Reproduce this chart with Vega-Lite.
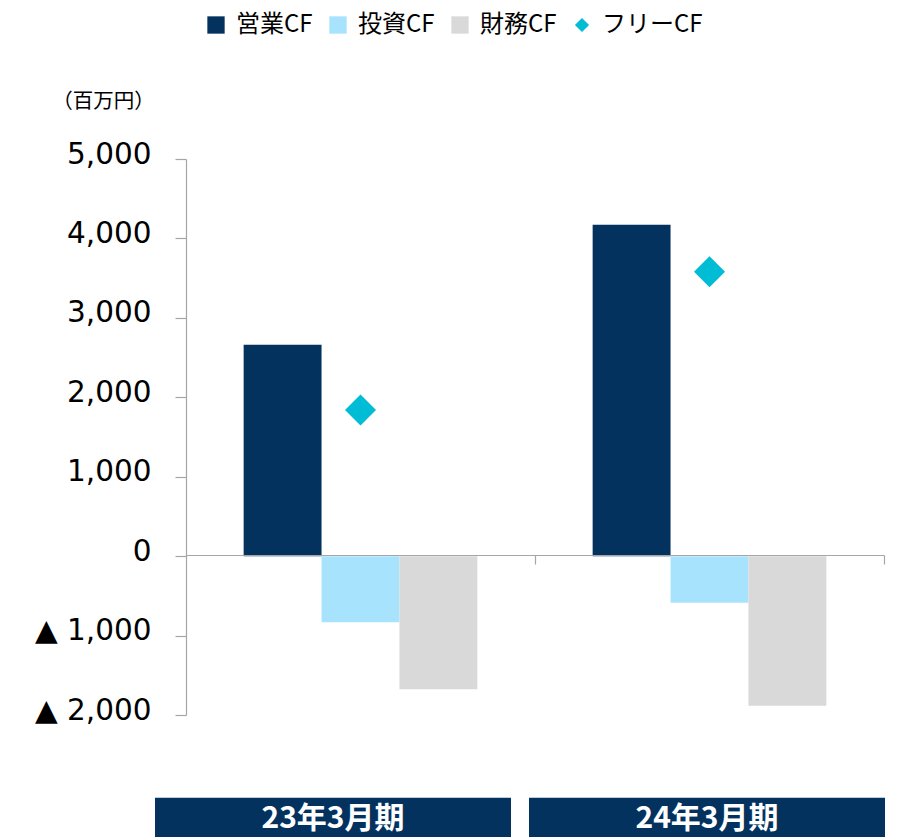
{
  "$schema": "https://vega.github.io/schema/vega-lite/v6.json",
  "autosize": {"type": "none"},
  "padding": {"left": 186, "top": 159, "right": 13, "bottom": 122},
  "width": 698,
  "height": 556,
  "background": "white",
  "config": {"view": {"stroke": null}},
  "datasets": {
    "cf": [
      {"period": "23年3月期", "type": "営業CF", "value": 2660},
      {"period": "23年3月期", "type": "投資CF", "value": -831},
      {"period": "23年3月期", "type": "財務CF", "value": -1675},
      {"period": "23年3月期", "type": "フリーCF", "value": 1840},
      {"period": "24年3月期", "type": "営業CF", "value": 4171},
      {"period": "24年3月期", "type": "投資CF", "value": -588},
      {"period": "24年3月期", "type": "財務CF", "value": -1885},
      {"period": "24年3月期", "type": "フリーCF", "value": 3580}
    ],
    "periods": [
      {"period": "23年3月期"},
      {"period": "24年3月期"}
    ]
  },
  "resolve": {"scale": {"x": "independent"}, "axis": {"x": "independent"}},
  "layer": [
    {
      "layer": [
        {
          "data": {"name": "cf"},
          "transform": [{"filter": "datum.type !== 'フリーCF'"}],
          "mark": {"type": "bar"},
          "encoding": {
            "x": {
              "field": "period", "type": "nominal",
              "scale": {"domain": ["23年3月期", "24年3月期"], "paddingInner": 0, "paddingOuter": 0},
              "axis": {
                "orient": "bottom", "offset": -160, "labels": false, "title": null,
                "domainColor": "#a6a6a6", "tickColor": "#a6a6a6", "tickSize": 9,
                "bandPosition": 1, "grid": false, "zindex": 1, "domainWidth": 1.2, "tickWidth": 1.2
              }
            },
            "xOffset": {
              "field": "type", "type": "nominal",
              "scale": {"domain": ["営業CF", "投資CF", "財務CF"], "paddingInner": 0, "paddingOuter": 0.74}
            },
            "y": {
              "field": "value", "type": "quantitative",
              "scale": {"domain": [-2000, 5000], "nice": false, "zero": false},
              "axis": {
                "values": [-2000, -1000, 0, 1000, 2000, 3000, 4000, 5000],
                "labelExpr": "datum.value < 0 ? '▲ ' + format(-datum.value, ',') : format(datum.value, ',')",
                "labelFont": "DejaVu Sans", "labelFontSize": 29.5, "labelColor": "#000000",
                "labelPadding": 24, "labelOffset": -5,
                "tickSize": 11, "tickColor": "#a6a6a6", "domainColor": "#a6a6a6",
                "domainWidth": 1.2, "tickWidth": 1.2, "grid": false,
                "title": "（百万円）", "titleAngle": 0, "titleX": -83, "titleY": -58,
                "titleAlign": "center", "titleBaseline": "middle",
                "titleFont": "Noto Sans CJK JP", "titleFontSize": 20.5, "titleFontWeight": "normal",
                "titleColor": "#000000"
              }
            },
            "color": {
              "field": "type", "type": "nominal",
              "scale": {
                "domain": ["営業CF", "投資CF", "財務CF", "フリーCF"],
                "range": ["#04325f", "#a8e3fe", "#d9d9d9", "#00bcd4"]
              },
              "legend": {
                "orient": "none", "legendX": 18, "legendY": -146,
                "direction": "horizontal", "title": null,
                "labelFont": "Noto Sans CJK JP", "labelFontSize": 24, "labelColor": "#000000",
                "labelOffset": 8, "columnPadding": 13, "symbolSize": 300,
                "padding": 0,
                "encode": {
                  "symbols": {
                    "update": {
                      "shape": {"signal": "datum.value === 'フリーCF' ? 'diamond' : 'square'"},
                      "size": {"signal": "datum.value === 'フリーCF' ? 200 : 300"},
                      "strokeWidth": {"value": 0}
                    }
                  }
                }
              }
            }
          }
        },
        {
          "data": {"name": "cf"},
          "transform": [{"filter": "datum.type === 'フリーCF'"}],
          "mark": {"type": "point", "shape": "diamond", "filled": true, "size": 961, "opacity": 1},
          "encoding": {
            "x": {"field": "period", "type": "nominal"},
            "y": {"field": "value", "type": "quantitative"},
            "color": {"field": "type", "type": "nominal"}
          }
        }
      ]
    },
    {
      "data": {"name": "periods"},
      "layer": [
        {
          "mark": {"type": "bar", "width": 356, "xOffset": -15, "color": "#04325f"},
          "encoding": {
            "x": {
              "field": "period", "type": "nominal",
              "scale": {"domain": ["23年3月期", "24年3月期"], "paddingInner": 0.1337, "paddingOuter": 0},
              "axis": null
            },
            "y": {"datum": -3043},
            "y2": {"datum": -3550}
          }
        },
        {
          "mark": {"type": "text", "xOffset": -15, "color": "#ffffff", "font": "Noto Sans CJK JP", "fontSize": 30, "fontWeight": "bold", "baseline": "middle", "align": "center"},
          "encoding": {
            "x": {"field": "period", "type": "nominal"},
            "y": {"datum": -3310},
            "text": {"field": "period"}
          }
        }
      ]
    }
  ]
}
